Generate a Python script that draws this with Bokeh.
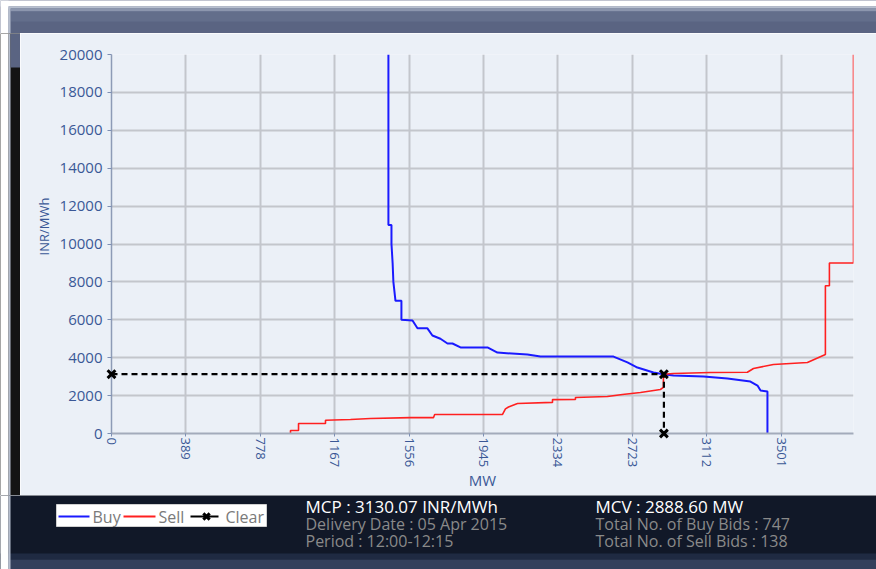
from bokeh.plotting import figure
from bokeh.models import Range1d, FixedTicker, Label, Title
from bokeh.layouts import column, row
from bokeh.embed import file_html
from bokeh.resources import INLINE
import math

# ---------------- data ----------------
x_ticks = [0, 389, 778, 1167, 1556, 1945, 2334, 2723, 3112, 3501]
x_tick_labels = ["0", "389", "778", "1167", "1556", "1945", "2334", "2723", "3112", "3501"]
y_ticks = [0, 2000, 4000, 6000, 8000, 10000, 12000, 14000, 16000, 18000, 20000]
y_tick_labels = ["0", "2000", "4000", "6000", "8000", "10000", "12000", "14000", "16000", "18000", "20000"]

buy_mw = [1448, 1448, 1464, 1464, 1470, 1474, 1485, 1516, 1516, 1574, 1600, 1652, 1678, 1720,
          1757, 1783, 1825, 1966, 2018, 2175, 2243, 2625, 2698, 2750, 2834, 2886, 2939, 3096,
          3221, 3341, 3378, 3394, 3430, 3430]
buy_price = [20000, 11000, 11000, 10000, 9000, 8000, 7000, 7000, 6000, 5960, 5550, 5550, 5170, 5000,
             4750, 4750, 4540, 4540, 4270, 4170, 4060, 4060, 3750, 3480, 3220, 3130, 3060, 3010,
             2900, 2740, 2530, 2270, 2220, 0]

sell_mw = [936, 936, 978, 978, 1119, 1119, 1250, 1354, 1563, 1684, 1690, 2044, 2060, 2076, 2123,
           2306, 2306, 2426, 2426, 2593, 2672, 2766, 2870, 2886, 2886, 2939, 3132, 3325, 3357,
           3461, 3639, 3733, 3733, 3754, 3754, 3880, 3880]
sell_price = [0, 160, 160, 530, 530, 700, 740, 790, 840, 840, 1000, 1000, 1300, 1400, 1580,
              1640, 1790, 1800, 1900, 1950, 2060, 2160, 2320, 2430, 3130, 3170, 3220, 3230, 3430,
              3640, 3750, 4170, 7800, 7800, 9000, 9000, 20000]

mcp = 3130.07
mcv = 2888.60
clear_mw = [0, mcv, mcv]
clear_price = [mcp, mcp, 0]

x_title = "MW"
y_title = "INR/MWh"
delivery_date = "05 Apr 2015"
period = "12:00-12:15"
buy_bids = 747
sell_bids = 138

# ---------------- styles ----------------
FONT = "Open Sans"
PANEL = "#ebf0f7"
NAVY = "#111828"
BAR = "#5a6482"
EDGE = "#b7bfcf"
TICK_COLOR = "#3a5896"


def blank(w, h, bg, border=None):
    f = figure(width=w, height=h, x_range=Range1d(0, w), y_range=Range1d(h, 0),
               output_backend="svg", toolbar_location=None, min_border=0,
               x_axis_location=None, y_axis_location=None,
               background_fill_color=bg, border_fill_color=border or bg,
               outline_line_color=None)
    f.grid.visible = False
    try:
        f.frame_align = False
    except Exception:
        pass
    return f


# top bar (page y 0..33)
top = blank(876, 33, BAR)
top.quad(left=0, right=876, top=0, bottom=6, color="white", line_color=None)
top.quad(left=8, right=876, top=6, bottom=8, color=EDGE, line_color=None)
top.quad(left=10, right=876, top=8, bottom=11, color="#8c96ae", line_color=None)
top.quad(left=10, right=876, top=11, bottom=21, color="#636e8b", line_color=None)
top.quad(left=0, right=8, top=0, bottom=33, color="white", line_color=None)
top.quad(left=8, right=10, top=6, bottom=33, color=EDGE, line_color=None)

# left strip (page x 0..20, y 33..495)
left = blank(20, 462, "#141414")
left.quad(left=0, right=8, top=0, bottom=462, color="white", line_color=None)
left.quad(left=8, right=10, top=0, bottom=462, color=EDGE, line_color=None)
left.quad(left=10, right=20, top=0, bottom=34, color=BAR, line_color=None)

# main chart (page x 20..876, y 33..495)
p = figure(width=856, height=462, x_range=Range1d(0, 3880), y_range=Range1d(0, 20000),
           output_backend="svg", toolbar_location=None,
           min_border_left=91, min_border_right=23, min_border_top=21, min_border_bottom=62,
           background_fill_color=PANEL, border_fill_color=PANEL, outline_line_color=None)
try:
    p.frame_align = False
except Exception:
    pass

p.xaxis.ticker = FixedTicker(ticks=x_ticks)
p.xaxis.major_label_overrides = {t: l for t, l in zip(x_ticks, x_tick_labels)}
p.yaxis.ticker = FixedTicker(ticks=y_ticks)
p.yaxis.major_label_overrides = {t: l for t, l in zip(y_ticks, y_tick_labels)}
p.xaxis.major_label_orientation = -math.pi / 2
p.xaxis.axis_label = x_title
for ax in (p.xaxis, p.yaxis):
    ax.major_label_text_font = FONT
    ax.major_label_text_color = TICK_COLOR
    ax.axis_label_text_font = FONT
    ax.axis_label_text_color = TICK_COLOR
    ax.axis_label_text_font_style = "normal"
    ax.minor_tick_line_color = None
    ax.major_tick_in = 0
    ax.major_tick_out = 4
    ax.major_tick_line_color = "#7d8fb3"
p.yaxis.major_label_text_font_size = "15px"
p.xaxis.major_label_text_font_size = "13px"
p.xaxis.axis_label_text_font_size = "15px"
p.xaxis.axis_label_standoff = 0
p.xaxis.major_label_standoff = 1
p.xaxis.major_tick_out = 3
p.yaxis.axis_line_color = "#8d9bb6"
p.yaxis.axis_line_width = 1.5
p.xaxis.axis_line_color = "#a3abbb"
p.xaxis.axis_line_width = 2
p.grid.grid_line_color = "#c3c6cc"
p.grid.grid_line_width = 2

# y title, placed a little above the centre as in the reference
p.add_layout(Title(text=y_title, align="left", offset=178, standoff=8, text_font=FONT,
                   text_font_size="13px", text_color=TICK_COLOR,
                   text_font_style="normal"), "left")

p.line(buy_mw, buy_price, color="#1a1aff", line_width=2)
p.line(sell_mw, sell_price, color="#ff2020", line_width=1.6)
p.line(clear_mw, clear_price, color="black", line_width=2.2, line_dash="6 4")
p.scatter(clear_mw, clear_price, marker="x", size=11, line_width=3, color="black", level="overlay")

# bottom panel (page y 495..569)
bot = blank(876, 74, NAVY)
bot.quad(left=0, right=876, top=58, bottom=64, color="#1f2a42", line_color=None)
bot.quad(left=0, right=876, top=64, bottom=74, color="#34405c", line_color=None)
bot.quad(left=0, right=8, top=0, bottom=74, color="white", line_color=None)
bot.quad(left=8, right=10, top=0, bottom=74, color=EDGE, line_color=None)

# legend
bot.quad(left=56, right=266, top=9, bottom=31, color="white", line_color="#d0d0d0")
bot.line([58, 89], [21, 21], color="#1a1aff", line_width=2)
bot.line([123, 155], [21, 21], color="#ff2020", line_width=2)
bot.line([190, 218], [21, 21], color="black", line_width=2)
bot.scatter([206], [21], marker="x", size=9, line_width=3, color="black")
for xx, tt in [(92, "Buy"), (158, "Sell"), (225, "Clear")]:
    bot.add_layout(Label(x=xx, y=21, text=tt, text_font=FONT, text_font_size="16px",
                         text_color="#7a7a7a", text_baseline="middle"))

info = [
    (305, 11, f"MCP : {mcp:.2f} INR/MWh", "white", "17px"),
    (305, 28, f"Delivery Date : {delivery_date}", "#8a8a8a", "16px"),
    (305, 45, f"Period :  {period}", "#8a8a8a", "16px"),
    (595, 11, f"MCV : {mcv:.2f} MW", "white", "17px"),
    (595, 28, f"Total No. of Buy Bids : {buy_bids}", "#8a8a8a", "16px"),
    (595, 45, f"Total No. of Sell Bids : {sell_bids}", "#8a8a8a", "16px"),
]
for xx, yy, tt, cc, fs in info:
    bot.add_layout(Label(x=xx, y=yy, text=tt, text_font=FONT, text_font_size=fs,
                         text_color=cc, text_baseline="middle"))

layout = column(top, row(left, p), bot)
open("out.html", "w").write(file_html(layout, INLINE))
